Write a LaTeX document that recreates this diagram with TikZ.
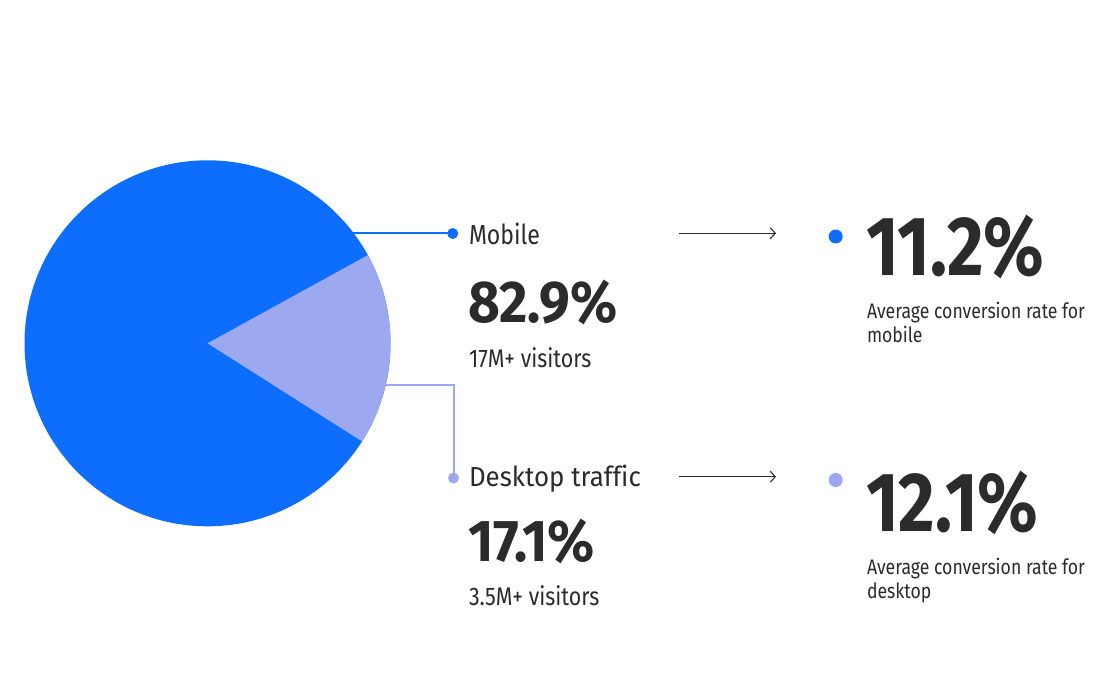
\documentclass[tikz,border=0pt]{standalone}
\usepackage{fontspec}
\setmainfont{Fira Sans}[FakeStretch=0.84, Ligatures=NoCommon]
\newfontfamily\bigfont{Fira Sans}[FakeStretch=0.93]
\usetikzlibrary{arrows.meta}
\definecolor{blueM}{HTML}{0D6EFD}
\definecolor{lightD}{HTML}{9CA8F0}
\definecolor{ink}{HTML}{2B2B2B}
\tikzset{
  txt/.style={anchor=base west, inner sep=0pt, outer sep=0pt, text=ink},
  lbl/.style={txt, font=\fontsize{27.5}{32}\selectfont},
  big/.style={txt, font=\bigfont\fontsize{59}{66}\selectfont\bfseries},
  huge/.style={txt, font=\fontsize{84}{90}\selectfont\bfseries},
  sub/.style={txt, font=\fontsize{25.5}{30}\selectfont},
  note/.style={txt, font=\fontsize{21}{24}\selectfont, align=left},
  dotS/.style={circle, inner sep=0pt, minimum size=11pt},
  dotL/.style={circle, inner sep=0pt, minimum size=14pt},
  lead/.style={line width=2pt},
  flow/.style={ink, line width=1.1pt, -{Straight Barb[length=5pt,width=11pt,line width=1.1pt]}}
}
\begin{document}
\begin{tikzpicture}[x=1pt,y=-1pt]
\useasboundingbox (0,0) rectangle (1117,700);
\fill[white] (0,0) rectangle (1117,700);
% pie
\coordinate (c) at (207.5,343.3);
\fill[blueM] (c) circle[radius=183];
\fill[lightD] (c) -- ++(-28.8:183) arc[start angle=-28.8, end angle=32.4, radius=183] -- cycle;
% leader lines
\coordinate (mEdge) at (353,233.5);
\coordinate (dEdge) at (385.5,385);
\node[dotS, fill=blueM] (mdot) at (452.7,233.5) {};
\node[dotS, fill=lightD] (ddot) at (453.5,478) {};
\draw[lead, blueM] (mEdge) -- (mdot.center);
\draw[lead, lightD] (dEdge) -| (ddot.center);
% middle column
\node[lbl] (mob) at (469,245) {Mobile};
\node[big] (mpct) at (468,322.7) {82.9\%};
\node[sub] (mvis) at (469,367.3) {17M+ visitors};
\node[lbl] (desk) at (469,486.7) {\scalebox{1.12}[1]{Desktop traffic}};
\node[big] (dpct) at (468,561.7) {17.1\%};
\node[sub] (dvis) at (469,605) {3.5M+ visitors};
% arrows
\coordinate (a1s) at (679,233.3);
\coordinate (a1e) at (776,233.3);
\coordinate (a2s) at (679,476.7);
\coordinate (a2e) at (776,476.7);
\draw[flow] (a1s) -- (a1e);
\draw[flow] (a2s) -- (a2e);
% right column
\node[dotL, fill=blueM] (rdot1) at (835.7,236.5) {};
\node[dotL, fill=lightD] (rdot2) at (835.7,480) {};
\node[huge] (rpct1) at (866,276) {11.2\%};
\node[huge] (rpct2) at (866,531.7) {12.1\%};
\node[note] (rn1) at (867,343) {Average conversion rate for\\mobile};
\node[note] (rn2) at (867,598) {Average conversion rate for\\desktop};
\end{tikzpicture}
\end{document}
